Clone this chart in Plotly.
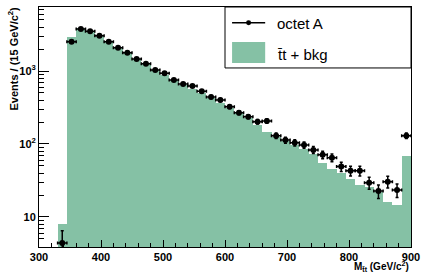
import numpy as np
import plotly.graph_objects as go

# ---- data ----
bin_width = 15
bin_centers = [337.5 + 15 * k for k in range(38)]
data_counts = [4.4, 2520, 3760, 3500, 3050, 2520, 2080, 1780, 1460, 1260,
               1030, 930, 753, 664, 623, 527, 440, 401, 324, 268,
               237, 202, 207, 130, 113, 104, 97, 83, 71, 65,
               49, 43, 43, 29.5, 22.7, 30.5, 23.4, 130]
bkg_counts = [8, 2900, 3900, 3500, 3050, 2500, 2080, 1750, 1450, 1230,
              1020, 880, 750, 640, 570, 500, 430, 367, 315, 270,
              228, 182, 148, 126, 110, 97, 86, 73, 55, 46,
              40, 33, 27.4, 26, 22, 16.2, 14.6, 69]
data_err = list(np.sqrt(np.array(data_counts)))

x_ticks = [300, 400, 500, 600, 700, 800, 900]
y_ticks = [10, 100, 1000]
y_ticktext = ["10", "10<sup>2</sup>", "10<sup>3</sup>"]
y_minor = [m * 10 ** e for e in range(0, 4) for m in range(2, 10) if 3.8 < m * 10 ** e < 7600]

GREEN = "#85c1a5"
FONT = "Liberation Sans"

fig = go.Figure()
fig.add_trace(go.Bar(
    x=bin_centers, y=bkg_counts, width=bin_width,
    marker=dict(color=GREEN, line=dict(width=0)),
    showlegend=False, hoverinfo="skip"))
fig.add_trace(go.Scatter(
    x=bin_centers, y=data_counts, mode="markers",
    marker=dict(color="black", size=6),
    error_x=dict(type="constant", value=bin_width / 2, color="black", thickness=1.5, width=1.5),
    error_y=dict(type="data", array=data_err, color="black", thickness=1.5, width=1.5),
    showlegend=False, cliponaxis=True))

fig.update_layout(
    width=429, height=277,
    margin=dict(l=39, r=18, t=7, b=30),
    paper_bgcolor="white", plot_bgcolor="white",
    bargap=0,
    xaxis=dict(range=[300, 900], tickvals=x_ticks, ticks="inside", ticklen=7,
               tickcolor="black", showline=True, linecolor="black", linewidth=1,
               mirror=True, showgrid=False, zeroline=False,
               tickfont=dict(family=FONT, size=11, color="black", weight="bold"),
               minor=dict(dtick=20, ticks="inside", ticklen=4, tickcolor="black", showgrid=False)),
    yaxis=dict(type="log", range=[np.log10(3.88), np.log10(7530)],
               tickvals=y_ticks, ticktext=y_ticktext, ticks="inside", ticklen=10,
               tickcolor="black", showline=True, linecolor="black", linewidth=1,
               mirror=True, showgrid=False, zeroline=False,
               tickfont=dict(family=FONT, size=11, color="black", weight="bold"),
               minor=dict(tickmode="array", tickvals=y_minor, ticks="inside", ticklen=5,
                          tickcolor="black", showgrid=False)),
)

# axis titles
fig.add_annotation(text="<b>Events / (15 GeV/c<sup>2</sup>)</b>", xref="paper", yref="paper",
                   x=-0.07, y=1.01, xanchor="center", yanchor="top", textangle=-90,
                   showarrow=False, font=dict(family=FONT, size=11, color="black"))
fig.add_annotation(text="<b>M<sub>t̄t</sub> (GeV/c<sup>2</sup>)</b>", xref="paper", yref="paper",
                   x=1.0, y=-0.118, xanchor="right", yanchor="bottom",
                   showarrow=False, font=dict(family=FONT, size=10, color="black"))

# legend drawn as shapes + text
fig.add_shape(type="rect", xref="paper", yref="paper", x0=0.5, x1=1.0, y0=0.746, y1=1.0,
              line=dict(color="black", width=1), fillcolor="white", layer="above")
fig.add_shape(type="line", xref="paper", yref="paper", x0=0.519, x1=0.608, y0=0.9346, y1=0.9346,
              line=dict(color="black", width=1.5), layer="above")
fig.add_shape(type="circle", xref="paper", yref="paper", x0=0.5635 - 0.0067, x1=0.5635 + 0.0067,
              y0=0.9346 - 0.0104, y1=0.9346 + 0.0104, line=dict(color="black", width=0),
              fillcolor="black", layer="above")
fig.add_shape(type="rect", xref="paper", yref="paper", x0=0.519, x1=0.608, y0=0.767, y1=0.854,
              line=dict(width=0), fillcolor=GREEN, layer="above")
fig.add_annotation(text="octet A", xref="paper", yref="paper", x=0.634, y=0.93,
                   xanchor="left", yanchor="middle", showarrow=False,
                   font=dict(family=FONT, size=15, color="black"))
fig.add_annotation(text="t̄t + bkg", xref="paper", yref="paper", x=0.634, y=0.80,
                   xanchor="left", yanchor="middle", showarrow=False,
                   font=dict(family=FONT, size=15, color="black"))

fig.write_html("out.html", config={"displayModeBar": False},
               post_script="document.body.style.margin='0';document.body.style.padding='0';")
